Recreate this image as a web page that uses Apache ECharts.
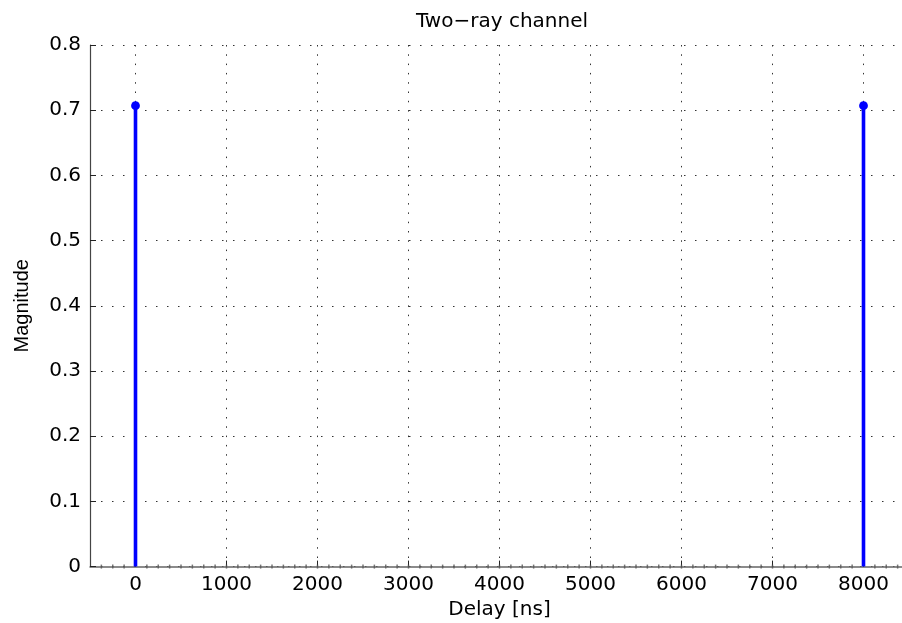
<!DOCTYPE html>
<html>
<head>
<meta charset="utf-8">
<script src="https://cdn.jsdelivr.net/npm/echarts@6/dist/echarts.min.js"></script>
<style>
html,body{margin:0;padding:0;background:#fff;}
#chart{width:902px;height:623px;}
</style>
</head>
<body>
<div id="chart"></div>
<script>
// Data
const titleText = 'Two\u2212ray channel';
const xAxisName = 'Delay [ns]';
const yAxisName = 'Magnitude';
const xTickValues = [0, 1000, 2000, 3000, 4000, 5000, 6000, 7000, 8000];
const rayDelays = [0, 8000];
const rayMagnitudes = [0.707, 0.707];
const zeroSampleDelays = [-375, -250, -125, 125, 250, 375, 500, 625, 750, 875, 1000, 1125, 1250, 1375, 1500, 1625, 1750, 1875, 2000, 2125, 2250, 2375, 2500, 2625, 2750, 2875, 3000, 3125, 3250, 3375, 3500, 3625, 3750, 3875, 4000, 4125, 4250, 4375, 4500, 4625, 4750, 4875, 5000, 5125, 5250, 5375, 5500, 5625, 5750, 5875, 6000, 6125, 6250, 6375, 6500, 6625, 6750, 6875, 7000, 7125, 7250, 7375, 7500, 7625, 7750, 7875, 8125, 8250, 8375, 8500];
const zeroSampleValues = zeroSampleDelays.map(() => 0);

const rayData = rayDelays.map((d, i) => [d, rayMagnitudes[i]]);
const zeroData = zeroSampleDelays.map((d, i) => [d, zeroSampleValues[i]]);

const chart = echarts.init(document.getElementById('chart'), null, {renderer: 'canvas'});
const tickFont = {fontFamily: 'DejaVu Sans', fontSize: 20, color: '#000'};

chart.setOption({
  animation: false,
  backgroundColor: '#fff',
  grid: {left: 90, width: 819, top: 45, height: 521.6, containLabel: false, outerBoundsMode: 'none'},
  graphic: [{
    type: 'text', x: 502, y: 22,
    style: {text: titleText, fontFamily: 'DejaVu Sans', fontSize: 20, fill: '#000', align: 'center', verticalAlign: 'middle'}
  }],
  xAxis: {
    type: 'value', min: -500, max: 8500,
    name: xAxisName, nameLocation: 'middle', nameGap: 32,
    nameTextStyle: {fontFamily: 'DejaVu Sans', fontSize: 20, color: '#000'},
    axisLine: {show: true, onZero: false, lineStyle: {color: '#666', width: 1.5}},
    axisTick: {show: true, inside: true, length: 6, customValues: xTickValues, lineStyle: {color: '#222', width: 1}},
    axisLabel: Object.assign({margin: 8, customValues: xTickValues, formatter: v => String(v)}, tickFont),
    splitLine: {show: true, lineStyle: {color: '#333', width: 1, type: [1.5, 7.8]}}
  },
  yAxis: {
    type: 'value', min: 0, max: 0.8, interval: 0.1,
    name: yAxisName, nameLocation: 'middle', nameGap: 58,
    nameTextStyle: {fontFamily: 'Liberation Sans', fontSize: 20, color: '#000'},
    axisLine: {show: true, onZero: false, lineStyle: {color: '#444', width: 1.2}},
    axisTick: {show: true, inside: true, length: 6, lineStyle: {color: '#222', width: 1}},
    axisLabel: Object.assign({margin: 9, formatter: v => String(Math.round(v * 10) / 10)}, tickFont),
    splitLine: {show: true, lineStyle: {color: '#333', width: 1, type: [1.5, 9.5]}}
  },
  series: [
    {
      type: 'scatter', data: zeroData, symbol: 'rect', symbolSize: [1.5, 4],
      itemStyle: {color: '#555'}, silent: true, z: 3
    },
    {
      type: 'custom', data: rayData, z: 5,
      renderItem: function (params, api) {
        const top = api.coord([api.value(0), api.value(1)]);
        const base = api.coord([api.value(0), 0]);
        return {
          type: 'group',
          children: [
            {type: 'line', shape: {x1: base[0], y1: base[1], x2: top[0], y2: top[1]},
             style: {stroke: '#0000ff', lineWidth: 3.6}},
            {type: 'circle', shape: {cx: top[0], cy: top[1], r: 4.4},
             style: {fill: '#0000ff'}}
          ]
        };
      }
    }
  ]
});
</script>
</body>
</html>
